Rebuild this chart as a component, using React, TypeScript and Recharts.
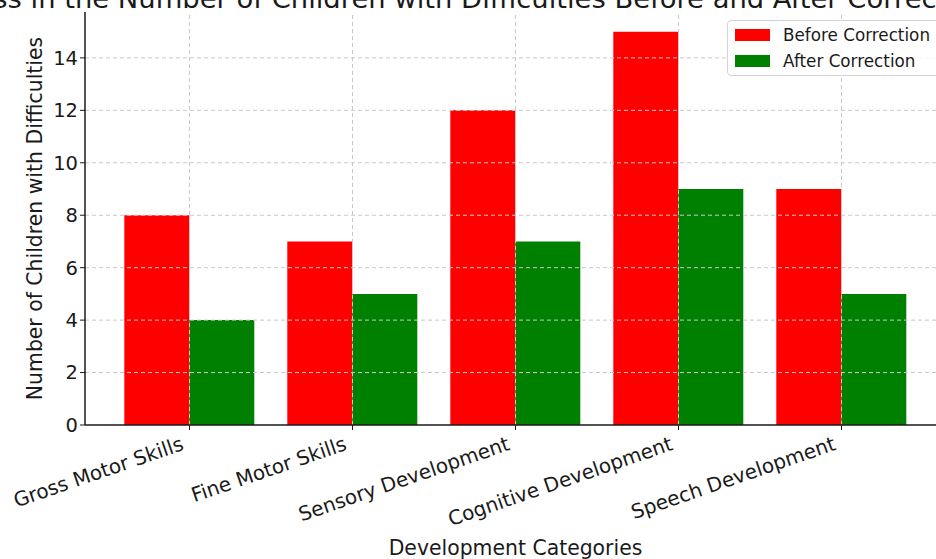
import React from "react";
import { BarChart, Bar, XAxis, YAxis, ReferenceLine, Legend } from "recharts";

const categories = [
  "Gross Motor Skills",
  "Fine Motor Skills",
  "Sensory Development",
  "Cognitive Development",
  "Speech Development",
];
const beforeCorrection = [8, 7, 12, 15, 9];
const afterCorrection = [4, 5, 7, 9, 5];
const yTicks = [0, 2, 4, 6, 8, 10, 12, 14];
const seriesNames = ["Before Correction", "After Correction"];

const data = categories.map((name, i) => ({
  name,
  before: beforeCorrection[i],
  after: afterCorrection[i],
}));

const FONT = "'DejaVu Sans', sans-serif";
const GRID = "#c8c8c8";
const INK = "#1a1a1a";

const XTick = (props: any) => {
  const { x, y, payload } = props;
  return (
    <text
      x={x}
      y={y}
      dx={-10}
      dy={15}
      transform={`rotate(-19, ${x}, ${y})`}
      textAnchor="end"
      fontSize={20}
      fontFamily={FONT}
      fill={INK}
    >
      {payload.value}
    </text>
  );
};

const LegendBox = (props: any) => {
  const items = [...(props.payload || [])].sort(
    (a: any, b: any) => seriesNames.indexOf(a.value) - seriesNames.indexOf(b.value)
  );
  return (
    <div
      style={{
        border: "1px solid #d3d3d3",
        borderRadius: 4,
        background: "rgba(255,255,255,0.85)",
        padding: "1px 12px 1px 7px",
        fontFamily: FONT,
        fontSize: 16.8,
        color: INK,
      }}
    >
      {items.map((it: any) => (
        <div key={it.value} style={{ display: "flex", alignItems: "center", height: 26, whiteSpace: "nowrap" }}>
          <span style={{ width: 35, height: 12, background: it.color, marginRight: 13, display: "inline-block" }} />
          {it.value}
        </div>
      ))}
    </div>
  );
};

export default function App() {
  return (
    <div
      style={{
        position: "fixed",
        left: 0,
        top: 0,
        width: 936,
        height: 559,
        overflow: "hidden",
        background: "#fff",
      }}
    >
      <div style={{ position: "absolute", left: 0, top: -30 }}>
        <BarChart
          width={1000}
          height={600}
          data={data}
          margin={{ top: 42, right: 54, left: 25, bottom: 15 }}
          barCategoryGap="10%"
          barGap={0}
        >
          <XAxis
            dataKey="name"
            height={130}
            padding={{ left: 23, right: 23 }}
            interval={0}
            tick={<XTick />}
            tickSize={5}
            tickLine={{ stroke: INK }}
            axisLine={{ stroke: INK, strokeWidth: 1.5 }}
            label={{
              content: ({ viewBox }: any) => (
                <text
                  x={viewBox.x + viewBox.width / 2}
                  y={viewBox.y + 123}
                  textAnchor="middle"
                  dominantBaseline="central"
                  fontSize={20.4}
                  fontFamily={FONT}
                  fill={INK}
                >
                  Development Categories
                </text>
              ),
            }}
          />
          <YAxis
            width={60}
            domain={[0, 15.75]}
            ticks={yTicks}
            tickSize={5}
            tickLine={{ stroke: INK }}
            axisLine={{ stroke: INK, strokeWidth: 1.5 }}
            tick={{ fontSize: 19.5, fontFamily: FONT, fill: INK }}
            label={{
              content: ({ viewBox }: any) => {
                const cx = viewBox.x + 10;
                const cy = viewBox.y + viewBox.height / 2;
                return (
                  <text
                    x={cx}
                    y={cy}
                    transform={`rotate(-90, ${cx}, ${cy})`}
                    textAnchor="middle"
                    dominantBaseline="central"
                    fontSize={20.4}
                    fontFamily={FONT}
                    fill={INK}
                  >
                    Number of Children with Difficulties
                  </text>
                );
              },
            }}
          />
          <Bar dataKey="before" name={seriesNames[0]} fill="#ff0000" isAnimationActive={false} />
          <Bar dataKey="after" name={seriesNames[1]} fill="#008000" isAnimationActive={false} />
          {yTicks.slice(1).map((t) => (
            <ReferenceLine key={`h${t}`} y={t} stroke={GRID} strokeDasharray="4 3" />
          ))}
          {categories.map((c) => (
            <ReferenceLine key={`v${c}`} x={c} stroke={GRID} strokeDasharray="4 3" />
          ))}
          <Legend
            layout="vertical"
            align="center"
            verticalAlign="middle"
            content={<LegendBox />}
            wrapperStyle={{ top: 50, left: 727, width: "auto", right: "auto", bottom: "auto" }}
          />
        </BarChart>
      </div>
      <svg style={{ position: "absolute", left: 0, top: 0 }} width={936} height={40}>
        <text
          x={-95}
          y={8}
          textAnchor="start"
          fontSize={26.5}
          textLength={1084}
          lengthAdjust="spacingAndGlyphs"
          fontFamily={FONT}
          fill={INK}
        >
          Progress in the Number of Children with Difficulties Before and After Correction
        </text>
      </svg>
    </div>
  );
}
